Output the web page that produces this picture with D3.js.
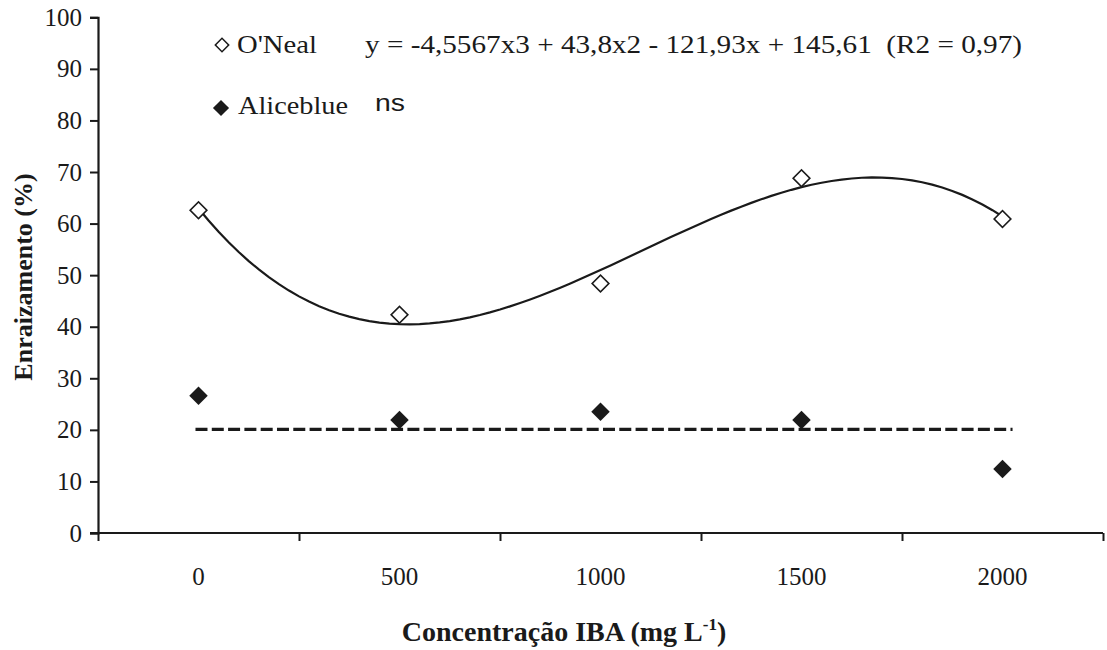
<!DOCTYPE html>
<html>
<head>
<meta charset="utf-8">
<script src="https://cdn.jsdelivr.net/npm/d3@7"></script>
<style>
  body { margin: 0; background: #fff; }
  text { fill: #1a1a1a; }
  .serif { font-family: "Liberation Serif", "Times New Roman", serif; }
  .sans { font-family: "Liberation Sans", Arial, sans-serif; }
</style>
</head>
<body>
<svg id="chart" width="1107" height="650"></svg>
<script>
// donnees
const concentrations = ["0", "500", "1000", "1500", "2000"];
const oneal = [62.6, 42.3, 48.4, 68.8, 60.9];
const aliceblue = [26.6, 21.9, 23.5, 21.9, 12.4];
// y = a x3 + b x2 + c x + d  (x = 1..5)
const trendCoefs = [-4.5567, 43.8, -121.93, 145.61];
const nsLevel = 20.1;
const yTicks = [0, 10, 20, 30, 40, 50, 60, 70, 80, 90, 100];

const svg = d3.select("#chart");
const plotLeft = 98, plotRight = 1103, plotTop = 17.3, plotBottom = 533;
const ink = "#1a1a1a";

// axe x en index de categorie, les graduations tombent entre les categories
const x = d3.scaleLinear().domain([-0.5, concentrations.length - 0.5]).range([plotLeft, plotRight]);
const y = d3.scaleLinear().domain([0, 100]).range([plotBottom, plotTop]);

// axe y
const gy = svg.append("g")
    .attr("transform", "translate(" + plotLeft + ",0)")
    .call(d3.axisLeft(y).tickValues(yTicks).tickSize(8).tickPadding(8));
gy.select(".domain").attr("stroke", ink).attr("stroke-width", 2.2);
gy.selectAll(".tick line").attr("stroke", ink).attr("stroke-width", 2);
gy.selectAll(".tick text")
    .attr("class", "serif")
    .style("font-size", "25px")
    .attr("fill", ink);

// axe x
const edges = d3.range(concentrations.length + 1).map(i => i - 0.5);
const gx = svg.append("g")
    .attr("transform", "translate(0," + plotBottom + ")")
    .call(d3.axisBottom(x).tickValues(edges).tickSize(8).tickFormat(""));
gx.select(".domain").attr("stroke", ink).attr("stroke-width", 2.2)
    .attr("d", "M" + (plotLeft - 8) + ",0H" + plotRight);
gx.selectAll(".tick line").attr("stroke", ink).attr("stroke-width", 2);

svg.append("g").selectAll("text")
    .data(concentrations)
    .join("text")
    .attr("class", "serif")
    .attr("x", (d, i) => x(i))
    .attr("y", 585)
    .attr("text-anchor", "middle")
    .style("font-size", "25px")
    .text(d => d);

// titres des axes
const xTitle = svg.append("text")
    .attr("class", "serif")
    .attr("x", 564)
    .attr("y", 641)
    .attr("text-anchor", "middle")
    .style("font-size", "28px")
    .style("font-weight", "bold");
xTitle.append("tspan").text("Concentração IBA (mg L");
xTitle.append("tspan").attr("dy", -11).style("font-size", "17px").text("-1");
xTitle.append("tspan").attr("dy", 11).text(")");

svg.append("text")
    .attr("class", "serif")
    .attr("transform", "translate(32,277) rotate(-90)")
    .attr("text-anchor", "middle")
    .style("font-size", "26px")
    .style("font-weight", "bold")
    .text("Enraizamento (%)");

// courbe de tendance O'Neal
function trend(t) {
    return trendCoefs[0] * t * t * t + trendCoefs[1] * t * t + trendCoefs[2] * t + trendCoefs[3];
}
const curvePts = d3.range(0, 4.001, 0.05).map(i => [x(i), y(trend(i + 1))]);
svg.append("path")
    .attr("d", d3.line()(curvePts))
    .attr("fill", "none")
    .attr("stroke", ink)
    .attr("stroke-width", 2.2);

// ligne ns Aliceblue
svg.append("line")
    .attr("x1", x(-0.015))
    .attr("x2", x(4.05))
    .attr("y1", y(nsLevel))
    .attr("y2", y(nsLevel))
    .attr("stroke", ink)
    .attr("stroke-width", 3.2)
    .attr("stroke-dasharray", "12,4.3");

// points
const diamond = size => d3.symbol().type(d3.symbolSquare).size(size)();

svg.append("g").selectAll("path")
    .data(aliceblue)
    .join("path")
    .attr("d", diamond(170))
    .attr("transform", (d, i) => "translate(" + x(i) + "," + y(d) + ") rotate(45)")
    .attr("fill", ink);

svg.append("g").selectAll("path")
    .data(oneal)
    .join("path")
    .attr("d", diamond(140))
    .attr("transform", (d, i) => "translate(" + x(i) + "," + y(d) + ") rotate(45)")
    .attr("fill", "#fff")
    .attr("stroke", ink)
    .attr("stroke-width", 1.6);

// legende (le texte de l'original est un peu etire en largeur)
function legendText(cls, px, py, size, len, txt) {
    return svg.append("text")
        .attr("class", cls)
        .attr("x", px).attr("y", py)
        .attr("textLength", len)
        .attr("lengthAdjust", "spacingAndGlyphs")
        .style("font-size", size + "px")
        .style("white-space", "pre")
        .text(txt);
}

svg.append("path")
    .attr("d", diamond(90))
    .attr("transform", "translate(222,45) rotate(45)")
    .attr("fill", "#fff")
    .attr("stroke", ink)
    .attr("stroke-width", 1.5);
legendText("serif", 237, 53, 26, 80, "O'Neal");
legendText("serif", 365, 53, 26, 657, "y = -4,5567x3 + 43,8x2 - 121,93x + 145,61  (R2 = 0,97)");

svg.append("path")
    .attr("d", diamond(130))
    .attr("transform", "translate(221,108) rotate(45)")
    .attr("fill", ink);
legendText("serif", 238, 114, 26, 110, "Aliceblue");
legendText("sans", 375, 111, 23, 30, "ns");
</script>
</body>
</html>
